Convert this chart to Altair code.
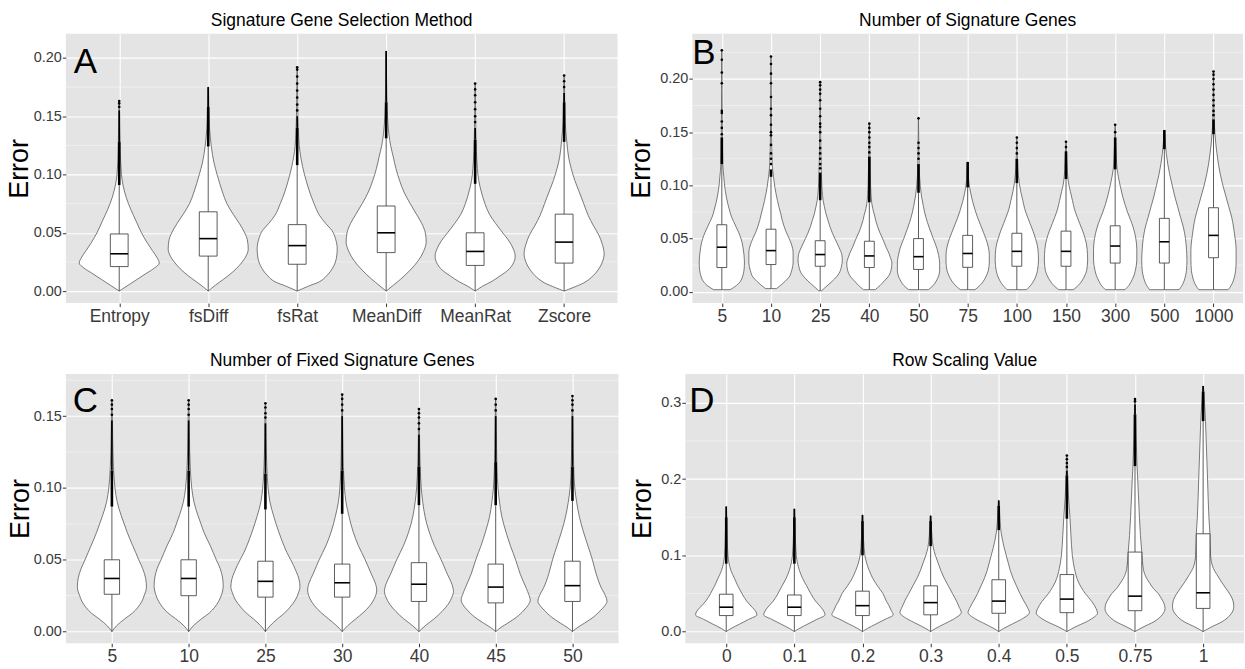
import json
import altair as alt
import pandas as pd

FONT = "Liberation Sans"
H = 270

# ---------------- Panel A ----------------
A_TITLE = "Signature Gene Selection Method"
A_CATS = ["Entropy", "fsDiff", "fsRat", "MeanDiff", "MeanRat", "Zscore"]
A_VIOLIN = {
    "Entropy": [(0, 0), (0.005, 0.1), (0.01, 0.2), (0.015, 0.3), (0.02, 0.4), (0.024, 0.45), (0.028, 0.43), (0.035, 0.37), (0.042, 0.31), (0.05, 0.25), (0.06, 0.19), (0.07, 0.13), (0.08, 0.08), (0.09, 0.045), (0.1, 0.025), (0.12, 0.012), (0.14, 0.007), (0.163, 0.003)],
    "fsDiff": [(0, 0), (0.005, 0.08), (0.01, 0.17), (0.016, 0.27), (0.022, 0.35), (0.028, 0.41), (0.036, 0.45), (0.044, 0.44), (0.05, 0.41), (0.058, 0.35), (0.066, 0.28), (0.075, 0.21), (0.085, 0.16), (0.1, 0.1), (0.11, 0.065), (0.124, 0.035), (0.14, 0.015), (0.155, 0.008), (0.175, 0.003)],
    "fsRat": [(0, 0), (0.004, 0.12), (0.008, 0.25), (0.013, 0.33), (0.02, 0.4), (0.028, 0.44), (0.036, 0.45), (0.045, 0.43), (0.052, 0.39), (0.058, 0.32), (0.065, 0.25), (0.075, 0.19), (0.085, 0.14), (0.095, 0.1), (0.107, 0.06), (0.12, 0.03), (0.14, 0.012), (0.16, 0.006), (0.192, 0.002)],
    "MeanDiff": [(0, 0), (0.005, 0.08), (0.01, 0.16), (0.018, 0.27), (0.026, 0.36), (0.034, 0.42), (0.042, 0.45), (0.05, 0.44), (0.058, 0.4), (0.066, 0.34), (0.075, 0.27), (0.085, 0.2), (0.095, 0.15), (0.105, 0.11), (0.115, 0.08), (0.125, 0.05), (0.135, 0.03), (0.15, 0.015), (0.17, 0.007), (0.206, 0.002)],
    "MeanRat": [(0, 0), (0.004, 0.08), (0.008, 0.18), (0.013, 0.28), (0.018, 0.37), (0.024, 0.43), (0.03, 0.45), (0.036, 0.43), (0.043, 0.38), (0.05, 0.31), (0.058, 0.23), (0.066, 0.16), (0.075, 0.11), (0.085, 0.07), (0.095, 0.04), (0.105, 0.025), (0.12, 0.014), (0.14, 0.007), (0.178, 0.002)],
    "Zscore": [(0, 0), (0.003, 0.1), (0.007, 0.22), (0.012, 0.31), (0.018, 0.38), (0.025, 0.43), (0.032, 0.45), (0.04, 0.43), (0.048, 0.39), (0.056, 0.33), (0.065, 0.27), (0.075, 0.22), (0.085, 0.17), (0.095, 0.12), (0.105, 0.08), (0.115, 0.05), (0.128, 0.03), (0.145, 0.012), (0.165, 0.006), (0.185, 0.002)],
}
A_Q1 = [0.021, 0.030, 0.023, 0.033, 0.022, 0.024]
A_MED = [0.032, 0.045, 0.039, 0.050, 0.034, 0.042]
A_Q3 = [0.049, 0.068, 0.057, 0.073, 0.050, 0.066]
A_LO = [0.0, 0.0, 0.0, 0.0, 0.0, 0.0]
A_HI = [0.091, 0.124, 0.108, 0.131, 0.092, 0.128]
A_THICK = [0.128, 0.158, 0.14, 0.162, 0.13, 0.162]
A_THIN = [0.155, 0.175, 0.15, 0.206, 0.14, 0.17]
A_OUT = {"Entropy": [0.158, 0.161, 0.163], "fsRat": [0.155, 0.16, 0.166, 0.172, 0.178, 0.184, 0.19, 0.192],
         "MeanRat": [0.145, 0.15, 0.156, 0.162, 0.168, 0.173, 0.178], "Zscore": [0.175, 0.18, 0.185]}
A_TICKS = [0.0, 0.05, 0.10, 0.15, 0.20]
A_MINOR = [0.025, 0.075, 0.125, 0.175]
A_DOMAIN = [-0.0103, 0.2208]

# ---------------- Panel B ----------------
B_TITLE = "Number of Signature Genes"
B_CATS = ["5", "10", "25", "40", "50", "75", "100", "150", "300", "500", "1000"]
B_VIOLIN = {
    "5": [(0.002, 0.17), (0.006, 0.3), (0.01, 0.38), (0.014, 0.42), (0.02, 0.45), (0.027, 0.46), (0.035, 0.45), (0.042, 0.43), (0.05, 0.39), (0.056, 0.34), (0.061, 0.29), (0.066, 0.24), (0.07, 0.2), (0.076, 0.16), (0.083, 0.12), (0.095, 0.07), (0.108, 0.04), (0.12, 0.02), (0.15, 0.01), (0.19, 0.005), (0.227, 0.002)],
    "10": [(0.003, 0.11), (0.007, 0.22), (0.01, 0.29), (0.014, 0.37), (0.02, 0.42), (0.027, 0.45), (0.0375, 0.45), (0.044, 0.42), (0.05, 0.37), (0.056, 0.31), (0.061, 0.27), (0.067, 0.23), (0.073, 0.2), (0.08, 0.16), (0.086, 0.13), (0.098, 0.08), (0.108, 0.05), (0.12, 0.025), (0.15, 0.01), (0.19, 0.005), (0.22, 0.002)],
    "25": [(0.001, 0.03), (0.004, 0.1), (0.008, 0.2), (0.012, 0.29), (0.017, 0.38), (0.023, 0.43), (0.03, 0.45), (0.035, 0.44), (0.039, 0.41), (0.045, 0.35), (0.05, 0.3), (0.055, 0.25), (0.061, 0.2), (0.067, 0.16), (0.073, 0.12), (0.08, 0.085), (0.086, 0.06), (0.095, 0.04), (0.11, 0.025), (0.13, 0.015), (0.16, 0.007), (0.197, 0.002)],
    "40": [(0.002, 0.12), (0.006, 0.22), (0.01, 0.3), (0.014, 0.38), (0.02, 0.44), (0.027, 0.46), (0.032, 0.43), (0.036, 0.4), (0.042, 0.34), (0.05, 0.27), (0.056, 0.21), (0.061, 0.17), (0.067, 0.13), (0.073, 0.1), (0.078, 0.07), (0.083, 0.05), (0.09, 0.035), (0.1, 0.025), (0.12, 0.015), (0.14, 0.008), (0.158, 0.002)],
    "50": [(0.002, 0.2), (0.006, 0.3), (0.01, 0.36), (0.015, 0.41), (0.02, 0.43), (0.027, 0.43), (0.034, 0.41), (0.04, 0.38), (0.05, 0.3), (0.06, 0.22), (0.07, 0.15), (0.08, 0.1), (0.09, 0.06), (0.1, 0.035), (0.11, 0.02), (0.13, 0.01), (0.163, 0.002)],
    "75": [(0.002, 0.15), (0.006, 0.25), (0.01, 0.32), (0.015, 0.38), (0.02, 0.42), (0.028, 0.44), (0.035, 0.44), (0.042, 0.42), (0.05, 0.37), (0.056, 0.32), (0.063, 0.26), (0.07, 0.2), (0.077, 0.15), (0.085, 0.1), (0.092, 0.065), (0.098, 0.04), (0.105, 0.02), (0.115, 0.01), (0.122, 0.002)],
    "100": [(0.002, 0.2), (0.006, 0.28), (0.01, 0.34), (0.015, 0.39), (0.02, 0.42), (0.03, 0.44), (0.04, 0.43), (0.05, 0.38), (0.057, 0.33), (0.064, 0.27), (0.07, 0.22), (0.078, 0.16), (0.086, 0.12), (0.094, 0.08), (0.102, 0.05), (0.11, 0.03), (0.125, 0.012), (0.145, 0.002)],
    "150": [(0.002, 0.15), (0.006, 0.25), (0.01, 0.32), (0.015, 0.38), (0.02, 0.42), (0.03, 0.44), (0.04, 0.43), (0.05, 0.39), (0.057, 0.34), (0.064, 0.28), (0.07, 0.23), (0.078, 0.17), (0.086, 0.13), (0.094, 0.09), (0.1, 0.06), (0.106, 0.04), (0.115, 0.025), (0.13, 0.01), (0.141, 0.002)],
    "300": [(0.002, 0.2), (0.006, 0.28), (0.01, 0.33), (0.015, 0.38), (0.02, 0.41), (0.03, 0.44), (0.04, 0.44), (0.05, 0.42), (0.06, 0.37), (0.068, 0.31), (0.075, 0.25), (0.082, 0.2), (0.09, 0.15), (0.1, 0.1), (0.108, 0.065), (0.115, 0.04), (0.125, 0.025), (0.14, 0.012), (0.157, 0.002)],
    "500": [(0.002, 0.3), (0.006, 0.36), (0.01, 0.4), (0.015, 0.43), (0.02, 0.45), (0.03, 0.46), (0.04, 0.45), (0.05, 0.43), (0.06, 0.39), (0.07, 0.33), (0.08, 0.27), (0.09, 0.21), (0.1, 0.16), (0.11, 0.11), (0.12, 0.07), (0.13, 0.04), (0.14, 0.02), (0.152, 0.003)],
    "1000": [(0.002, 0.3), (0.006, 0.36), (0.01, 0.4), (0.015, 0.43), (0.02, 0.45), (0.03, 0.46), (0.04, 0.46), (0.05, 0.44), (0.06, 0.41), (0.07, 0.37), (0.08, 0.31), (0.09, 0.25), (0.1, 0.19), (0.11, 0.14), (0.12, 0.1), (0.13, 0.07), (0.14, 0.045), (0.148, 0.03), (0.16, 0.015), (0.18, 0.007), (0.207, 0.002)],
}
B_Q1 = [0.0228, 0.0256, 0.024, 0.0228, 0.021, 0.023, 0.024, 0.024, 0.027, 0.027, 0.032]
B_MED = [0.0419, 0.0387, 0.035, 0.0337, 0.033, 0.036, 0.038, 0.038, 0.043, 0.047, 0.053]
B_Q3 = [0.063, 0.0588, 0.048, 0.0475, 0.050, 0.053, 0.055, 0.057, 0.062, 0.069, 0.079]
B_LO = [0.002, 0.003, 0.001, 0.002, 0.002, 0.002, 0.002, 0.002, 0.002, 0.002, 0.002]
B_HI = [0.120, 0.108, 0.086, 0.084, 0.093, 0.098, 0.102, 0.106, 0.115, 0.134, 0.148]
B_THICK = [0.145, 0.115, 0.112, 0.127, 0.120, 0.122, 0.125, 0.132, 0.145, 0.152, 0.162]
B_THIN = [0.145, 0.115, 0.112, 0.127, 0.120, 0.122, 0.125, 0.132, 0.145, 0.152, 0.162]
B_OUT = {
    "5": [0.148, 0.154, 0.160, 0.168, 0.170, 0.196, 0.206, 0.218, 0.227],
    "10": [0.120, 0.125, 0.130, 0.138, 0.147, 0.150, 0.157, 0.166, 0.172, 0.183, 0.196, 0.205, 0.214, 0.221],
    "25": [0.116, 0.120, 0.125, 0.130, 0.135, 0.142, 0.150, 0.155, 0.158, 0.165, 0.172, 0.180, 0.186, 0.190, 0.194, 0.197],
    "40": [0.131, 0.136, 0.140, 0.145, 0.150, 0.154, 0.158],
    "50": [0.125, 0.130, 0.135, 0.140, 0.163],
    "100": [0.130, 0.135, 0.140, 0.145],
    "150": [0.136, 0.141],
    "300": [0.150, 0.157],
    "1000": [0.166, 0.170, 0.175, 0.180, 0.185, 0.190, 0.195, 0.200, 0.204, 0.207],
}
B_TICKS = [0.0, 0.05, 0.10, 0.15, 0.20]
B_MINOR = [0.025, 0.075, 0.125, 0.175, 0.225]
B_DOMAIN = [-0.0106, 0.2425]

# ---------------- Panel C ----------------
C_TITLE = "Number of Fixed Signature Genes"
C_CATS = ["5", "10", "25", "30", "40", "45", "50"]
C_VIOLIN = {
    "5": [(0, 0), (0.004, 0.06), (0.009, 0.17), (0.013, 0.27), (0.017, 0.34), (0.021, 0.39), (0.025, 0.42), (0.031, 0.45), (0.037, 0.44), (0.044, 0.40), (0.05, 0.35), (0.055, 0.31), (0.06, 0.27), (0.069, 0.20), (0.075, 0.16), (0.081, 0.12), (0.09, 0.07), (0.1, 0.04), (0.115, 0.02), (0.135, 0.01), (0.161, 0.003)],
    "10": [(0, 0), (0.004, 0.06), (0.009, 0.17), (0.013, 0.27), (0.017, 0.34), (0.021, 0.39), (0.026, 0.43), (0.032, 0.45), (0.038, 0.44), (0.044, 0.41), (0.05, 0.36), (0.055, 0.32), (0.06, 0.28), (0.069, 0.20), (0.075, 0.16), (0.081, 0.12), (0.09, 0.07), (0.1, 0.04), (0.115, 0.02), (0.135, 0.01), (0.161, 0.003)],
    "25": [(0, 0), (0.004, 0.06), (0.009, 0.16), (0.013, 0.25), (0.017, 0.32), (0.022, 0.39), (0.027, 0.43), (0.031, 0.45), (0.036, 0.44), (0.042, 0.40), (0.05, 0.33), (0.055, 0.28), (0.06, 0.24), (0.07, 0.17), (0.08, 0.11), (0.09, 0.06), (0.1, 0.035), (0.115, 0.018), (0.135, 0.009), (0.159, 0.003)],
    "30": [(0, 0), (0.004, 0.07), (0.009, 0.18), (0.013, 0.27), (0.018, 0.36), (0.023, 0.42), (0.029, 0.45), (0.034, 0.43), (0.04, 0.38), (0.05, 0.30), (0.06, 0.21), (0.07, 0.14), (0.08, 0.09), (0.09, 0.05), (0.1, 0.03), (0.115, 0.016), (0.14, 0.008), (0.165, 0.002)],
    "40": [(0, 0), (0.004, 0.08), (0.009, 0.2), (0.014, 0.3), (0.019, 0.38), (0.024, 0.43), (0.028, 0.45), (0.033, 0.43), (0.04, 0.37), (0.05, 0.29), (0.06, 0.2), (0.07, 0.13), (0.08, 0.08), (0.09, 0.05), (0.1, 0.03), (0.115, 0.016), (0.135, 0.008), (0.155, 0.002)],
    "45": [(0, 0), (0.003, 0.07), (0.006, 0.16), (0.01, 0.27), (0.015, 0.37), (0.019, 0.43), (0.022, 0.45), (0.026, 0.43), (0.03, 0.40), (0.04, 0.32), (0.05, 0.26), (0.06, 0.19), (0.07, 0.13), (0.08, 0.08), (0.09, 0.05), (0.1, 0.03), (0.115, 0.016), (0.14, 0.008), (0.162, 0.002)],
    "50": [(0, 0), (0.003, 0.07), (0.006, 0.16), (0.01, 0.27), (0.015, 0.37), (0.018, 0.42), (0.021, 0.45), (0.025, 0.43), (0.03, 0.38), (0.04, 0.31), (0.05, 0.26), (0.06, 0.20), (0.07, 0.14), (0.08, 0.09), (0.09, 0.055), (0.1, 0.03), (0.115, 0.016), (0.14, 0.008), (0.164, 0.002)],
}
C_Q1 = [0.026, 0.025, 0.024, 0.024, 0.021, 0.020, 0.021]
C_MED = [0.037, 0.037, 0.035, 0.034, 0.033, 0.031, 0.032]
C_Q3 = [0.050, 0.050, 0.049, 0.047, 0.048, 0.047, 0.049]
C_LO = [0.0, 0.0, 0.0, 0.0, 0.0, 0.0, 0.0]
C_HI = [0.087, 0.087, 0.085, 0.082, 0.088, 0.088, 0.091]
C_THICK = [0.112, 0.112, 0.110, 0.112, 0.115, 0.118, 0.115]
C_THIN = [0.147, 0.147, 0.145, 0.150, 0.137, 0.150, 0.150]
C_OUT = {
    "5": [0.151, 0.155, 0.158, 0.161], "10": [0.151, 0.155, 0.158, 0.161],
    "25": [0.149, 0.152, 0.156, 0.159], "30": [0.154, 0.158, 0.162, 0.165],
    "40": [0.141, 0.145, 0.149, 0.152, 0.155], "45": [0.154, 0.158, 0.162],
    "50": [0.154, 0.158, 0.161, 0.164],
}
C_TICKS = [0.0, 0.05, 0.10, 0.15]
C_MINOR = [0.025, 0.075, 0.125, 0.175]
C_DOMAIN = [-0.0081, 0.1794]

# ---------------- Panel D ----------------
D_TITLE = "Row Scaling Value"
D_CATS = ["0", "0.1", "0.2", "0.3", "0.4", "0.5", "0.75", "1"]
D_VIOLIN = {
    "0": [(0, 0), (0.004, 0.07), (0.01, 0.2), (0.016, 0.33), (0.022, 0.45), (0.027, 0.43), (0.032, 0.38), (0.04, 0.3), (0.05, 0.23), (0.06, 0.17), (0.07, 0.12), (0.08, 0.07), (0.09, 0.04), (0.1, 0.025), (0.13, 0.012), (0.164, 0.003)],
    "0.1": [(0, 0), (0.004, 0.07), (0.01, 0.2), (0.016, 0.33), (0.022, 0.45), (0.027, 0.43), (0.032, 0.39), (0.04, 0.31), (0.05, 0.24), (0.06, 0.18), (0.07, 0.12), (0.08, 0.075), (0.09, 0.045), (0.1, 0.028), (0.13, 0.012), (0.161, 0.003)],
    "0.2": [(0, 0), (0.004, 0.07), (0.01, 0.2), (0.016, 0.33), (0.022, 0.45), (0.028, 0.42), (0.034, 0.39), (0.04, 0.35), (0.05, 0.30), (0.06, 0.22), (0.07, 0.15), (0.08, 0.1), (0.09, 0.06), (0.1, 0.035), (0.12, 0.016), (0.153, 0.003)],
    "0.3": [(0, 0), (0.004, 0.07), (0.01, 0.2), (0.017, 0.35), (0.025, 0.45), (0.032, 0.42), (0.04, 0.38), (0.05, 0.32), (0.06, 0.26), (0.07, 0.2), (0.08, 0.15), (0.09, 0.11), (0.1, 0.07), (0.11, 0.04), (0.125, 0.02), (0.152, 0.003)],
    "0.4": [(0, 0), (0.004, 0.07), (0.01, 0.2), (0.017, 0.35), (0.025, 0.45), (0.032, 0.42), (0.04, 0.37), (0.05, 0.31), (0.06, 0.26), (0.07, 0.21), (0.08, 0.17), (0.09, 0.14), (0.1, 0.11), (0.11, 0.08), (0.12, 0.055), (0.13, 0.035), (0.145, 0.02), (0.172, 0.003)],
    "0.5": [(0, 0), (0.006, 0.12), (0.013, 0.29), (0.019, 0.4), (0.024, 0.45), (0.03, 0.43), (0.039, 0.37), (0.05, 0.27), (0.065, 0.17), (0.083, 0.11), (0.1, 0.08), (0.126, 0.06), (0.15, 0.045), (0.175, 0.025), (0.2, 0.012), (0.231, 0.003)],
    "0.75": [(0, 0), (0.006, 0.12), (0.013, 0.28), (0.022, 0.4), (0.03, 0.44), (0.036, 0.43), (0.043, 0.39), (0.05, 0.34), (0.0565, 0.27), (0.063, 0.22), (0.07, 0.17), (0.083, 0.12), (0.104, 0.1), (0.126, 0.08), (0.15, 0.065), (0.17, 0.055), (0.2, 0.04), (0.217, 0.03), (0.25, 0.018), (0.28, 0.01), (0.304, 0.003)],
    "1": [(0, 0), (0.006, 0.12), (0.013, 0.28), (0.022, 0.4), (0.0326, 0.45), (0.04, 0.44), (0.048, 0.4), (0.056, 0.34), (0.065, 0.27), (0.075, 0.2), (0.083, 0.15), (0.1, 0.11), (0.128, 0.1), (0.15, 0.085), (0.2, 0.065), (0.25, 0.045), (0.276, 0.035), (0.3, 0.02), (0.322, 0.005)],
}
D_Q1 = [0.021, 0.021, 0.021, 0.022, 0.024, 0.0248, 0.0274, 0.0304]
D_MED = [0.032, 0.032, 0.034, 0.038, 0.040, 0.0426, 0.0465, 0.0509]
D_Q3 = [0.049, 0.048, 0.053, 0.060, 0.068, 0.0748, 0.1043, 0.1283]
D_LO = [0.0, 0.0, 0.0, 0.0, 0.0, 0.0, 0.0, 0.0]
D_HI = [0.089, 0.089, 0.100, 0.112, 0.133, 0.148, 0.217, 0.276]
D_THICK = [0.150, 0.150, 0.145, 0.145, 0.165, 0.205, 0.285, 0.315]
D_THIN = [0.164, 0.161, 0.153, 0.152, 0.172, 0.211, 0.298, 0.322]
D_OUT = {"0.5": [0.216, 0.221, 0.226, 0.231], "0.75": [0.302, 0.305]}
D_TICKS = [0.0, 0.1, 0.2, 0.3]
D_MINOR = [0.05, 0.15, 0.25]
D_DOMAIN = [-0.0153, 0.338]

BOX_HALF = 0.1


def panel(title, cats, violin, q1, med, q3, lo, hi, thick, thin, out,
          ticks, minor, domain, fmt, width, title_x, letter, lx, ly):
    n = len(cats)
    vdf = pd.DataFrame([{"cat": c, "idx": i, "y": y, "w": w}
                        for i, c in enumerate(cats) for (y, w) in violin[c]])
    bdf = pd.DataFrame({"cat": cats, "idx": list(range(n)), "q1": q1, "med": med,
                        "q3": q3, "lo": lo, "hi": hi, "thick": thick, "thin": thin})
    odf = pd.DataFrame([{"idx": i, "y": v} for i, c in enumerate(cats) for v in out.get(c, [])],
                       columns=["idx", "y"])
    xs = alt.Scale(domain=[-0.6, n - 0.4], nice=False, zero=False)
    ys = alt.Scale(domain=domain, nice=False, zero=False)
    xaxis = alt.Axis(values=list(range(n)), labelExpr=json.dumps(cats) + "[datum.value]",
                     title=None, grid=True, gridColor="white", gridWidth=1.1, domain=False,
                     tickColor="#333333", tickSize=3.5, tickWidth=1, labelFontSize=17.5,
                     labelColor="#3a3a3a", labelPadding=1, labelFlush=False, labelOverlap=False)
    yaxis = alt.Axis(values=ticks, format=fmt, title="Error", titleFontSize=27,
                     titleFontWeight="normal", titleColor="black", titleX=title_x, titleY=H / 2,
                     titleBaseline="middle", grid=True, gridColor="white", gridWidth=1.1,
                     domain=False, tickColor="#333333", tickSize=3.5, tickWidth=1,
                     labelFontSize=14.5, labelColor="#3a3a3a", labelPadding=1)

    def X(f):
        return alt.X(f, scale=xs, axis=xaxis)

    def Y(f):
        return alt.Y(f, scale=ys, axis=yaxis)

    minor_l = alt.Chart(pd.DataFrame({"y": minor})).mark_rule(
        color="#F3F3F3", strokeWidth=0.7).encode(y=Y("y:Q"))
    viol = alt.Chart(vdf).transform_calculate(
        left="datum.idx - datum.w", right="datum.idx + datum.w"
    ).mark_area(orient="horizontal", interpolate="monotone", fill="white",
                stroke="#5a5a5a", strokeWidth=0.8).encode(
        x=X("left:Q"), x2="right:Q", y=Y("y:Q"), detail="cat:N")
    base = alt.Chart(bdf).transform_calculate(
        bl=f"datum.idx - {BOX_HALF}", br=f"datum.idx + {BOX_HALF}")
    wlo = base.mark_rule(color="#333333", strokeWidth=0.8).encode(
        x=X("idx:Q"), y=Y("lo:Q"), y2="q1:Q")
    whi = base.mark_rule(color="#333333", strokeWidth=0.8).encode(
        x=X("idx:Q"), y=Y("q3:Q"), y2="hi:Q")
    box = base.mark_rect(fill="white", stroke="#333333", strokeWidth=0.8).encode(
        x=X("bl:Q"), x2="br:Q", y=Y("q1:Q"), y2="q3:Q")
    medl = base.mark_rule(color="black", strokeWidth=1.6).encode(
        x=X("bl:Q"), x2="br:Q", y=Y("med:Q"))
    thk = base.mark_rule(color="black", strokeWidth=2.6).encode(
        x=X("idx:Q"), y=Y("hi:Q"), y2="thick:Q")
    thn = base.mark_rule(color="black", strokeWidth=1.7).encode(
        x=X("idx:Q"), y=Y("thick:Q"), y2="thin:Q")
    pts = alt.Chart(odf).mark_circle(color="black", size=7, opacity=1).encode(
        x=X("idx:Q"), y=Y("y:Q"))
    let = alt.Chart(pd.DataFrame({"t": [letter]})).mark_text(
        fontSize=35, align="left", baseline="alphabetic", color="black", font=FONT
    ).encode(text="t:N", x=alt.value(lx), y=alt.value(ly))

    return alt.layer(minor_l, viol, wlo, whi, box, medl, thk, thn, pts, let).properties(
        width=width, height=H,
        title=alt.TitleParams(title, fontSize=17.5, fontWeight="normal", color="black",
                              offset=4, anchor="middle", font=FONT))


pa = panel(A_TITLE, A_CATS, A_VIOLIN, A_Q1, A_MED, A_Q3, A_LO, A_HI, A_THICK, A_THIN, A_OUT,
           A_TICKS, A_MINOR, A_DOMAIN, ".2f", 553, -46, "A", 8, 39)
pb = panel(B_TITLE, B_CATS, B_VIOLIN, B_Q1, B_MED, B_Q3, B_LO, B_HI, B_THICK, B_THIN, B_OUT,
           B_TICKS, B_MINOR, B_DOMAIN, ".2f", 552, -51, "B", 0, 30)
pc = panel(C_TITLE, C_CATS, C_VIOLIN, C_Q1, C_MED, C_Q3, C_LO, C_HI, C_THICK, C_THIN, C_OUT,
           C_TICKS, C_MINOR, C_DOMAIN, ".2f", 554, -45, "C", 7, 38)
pd_ = panel(D_TITLE, D_CATS, D_VIOLIN, D_Q1, D_MED, D_Q3, D_LO, D_HI, D_THICK, D_THIN, D_OUT,
            D_TICKS, D_MINOR, D_DOMAIN, ".1f", 560, -43, "D", 4, 38)

chart = alt.vconcat(
    alt.hconcat(pa, pb, spacing=9),
    alt.hconcat(pc, pd_, spacing=9),
    spacing=27,
).properties(
    padding={"left": 6, "top": 11, "right": 0, "bottom": 0}
).configure(font=FONT).configure_view(fill="#E4E4E4", strokeWidth=0)

chart.save("out.html", embed_options={"renderer": "svg", "actions": False})
